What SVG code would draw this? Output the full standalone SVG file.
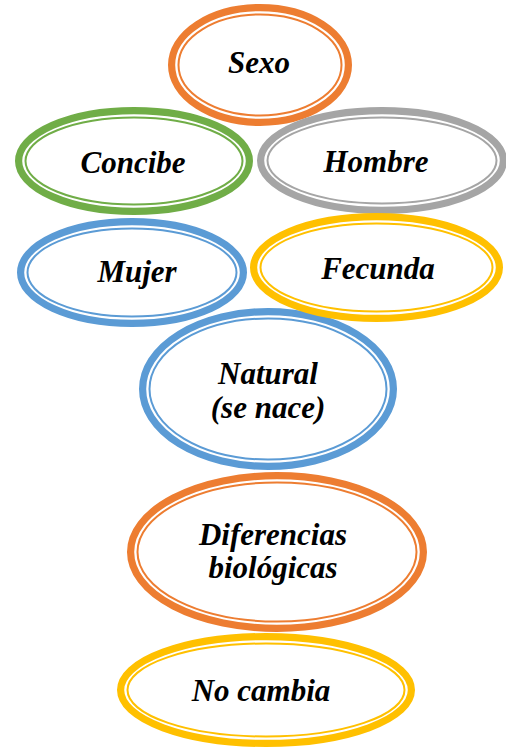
<svg xmlns="http://www.w3.org/2000/svg" width="506" height="748" viewBox="0 0 506 748">
<style>
.thick{fill:none;stroke-width:7.2}
.thin{fill:none;stroke-width:2}
.o{stroke:#ED7D31}.g{stroke:#70AD47}.gr{stroke:#A5A5A5}.b{stroke:#5B9BD5}.y{stroke:#FFC000}
text{font-family:"Liberation Serif","Times New Roman",serif;font-weight:bold;font-style:italic;font-size:31px;fill:#000;text-anchor:middle}
</style>
<rect width="506" height="748" fill="#fff"/>
<g id="sexo">
<ellipse class="thick o" cx="260" cy="65" rx="88.4" ry="57.4"/>
<ellipse class="thin o" cx="260" cy="65" rx="81.5" ry="50.5"/>
<text x="259" y="73">Sexo</text>
</g>
<g id="concibe">
<ellipse class="thick g" cx="134" cy="161" rx="115.4" ry="50.4"/>
<ellipse class="thin g" cx="134" cy="161" rx="108.5" ry="43.5"/>
<text x="133" y="173">Concibe</text>
</g>
<g id="hombre">
<ellipse class="thick gr" cx="382" cy="160.5" rx="121.4" ry="49.9"/>
<ellipse class="thin gr" cx="382" cy="160.5" rx="114.5" ry="43"/>
<text x="376" y="172">Hombre</text>
</g>
<g id="mujer">
<ellipse class="thick b" cx="132" cy="272.5" rx="111.4" ry="50.9"/>
<ellipse class="thin b" cx="132" cy="272.5" rx="104.5" ry="44"/>
<text x="137" y="282">Mujer</text>
</g>
<g id="natural">
<ellipse class="thick b" cx="268" cy="389" rx="125.4" ry="77.4"/>
<ellipse class="thin b" cx="268" cy="389" rx="118.5" ry="70.5"/>
<text x="268" y="384">Natural</text>
<text x="268" y="418">(se nace)</text>
</g>
<g id="fecunda">
<ellipse class="thick y" cx="376.5" cy="267.5" rx="122.9" ry="50.9"/>
<ellipse class="thin y" cx="376.5" cy="267.5" rx="116" ry="44"/>
<text x="378" y="279">Fecunda</text>
</g>
<g id="diferencias">
<ellipse class="thick o" cx="277" cy="552" rx="146.4" ry="76.4"/>
<ellipse class="thin o" cx="277" cy="552" rx="139.5" ry="69.5"/>
<text x="273" y="545">Diferencias</text>
<text x="273" y="578">biológicas</text>
</g>
<g id="nocambia">
<ellipse class="thick y" cx="266" cy="690" rx="145.4" ry="53.4"/>
<ellipse class="thin y" cx="266" cy="690" rx="138.5" ry="46.5"/>
<text x="261" y="701">No cambia</text>
</g>
<g id="connectors"></g>
</svg>
